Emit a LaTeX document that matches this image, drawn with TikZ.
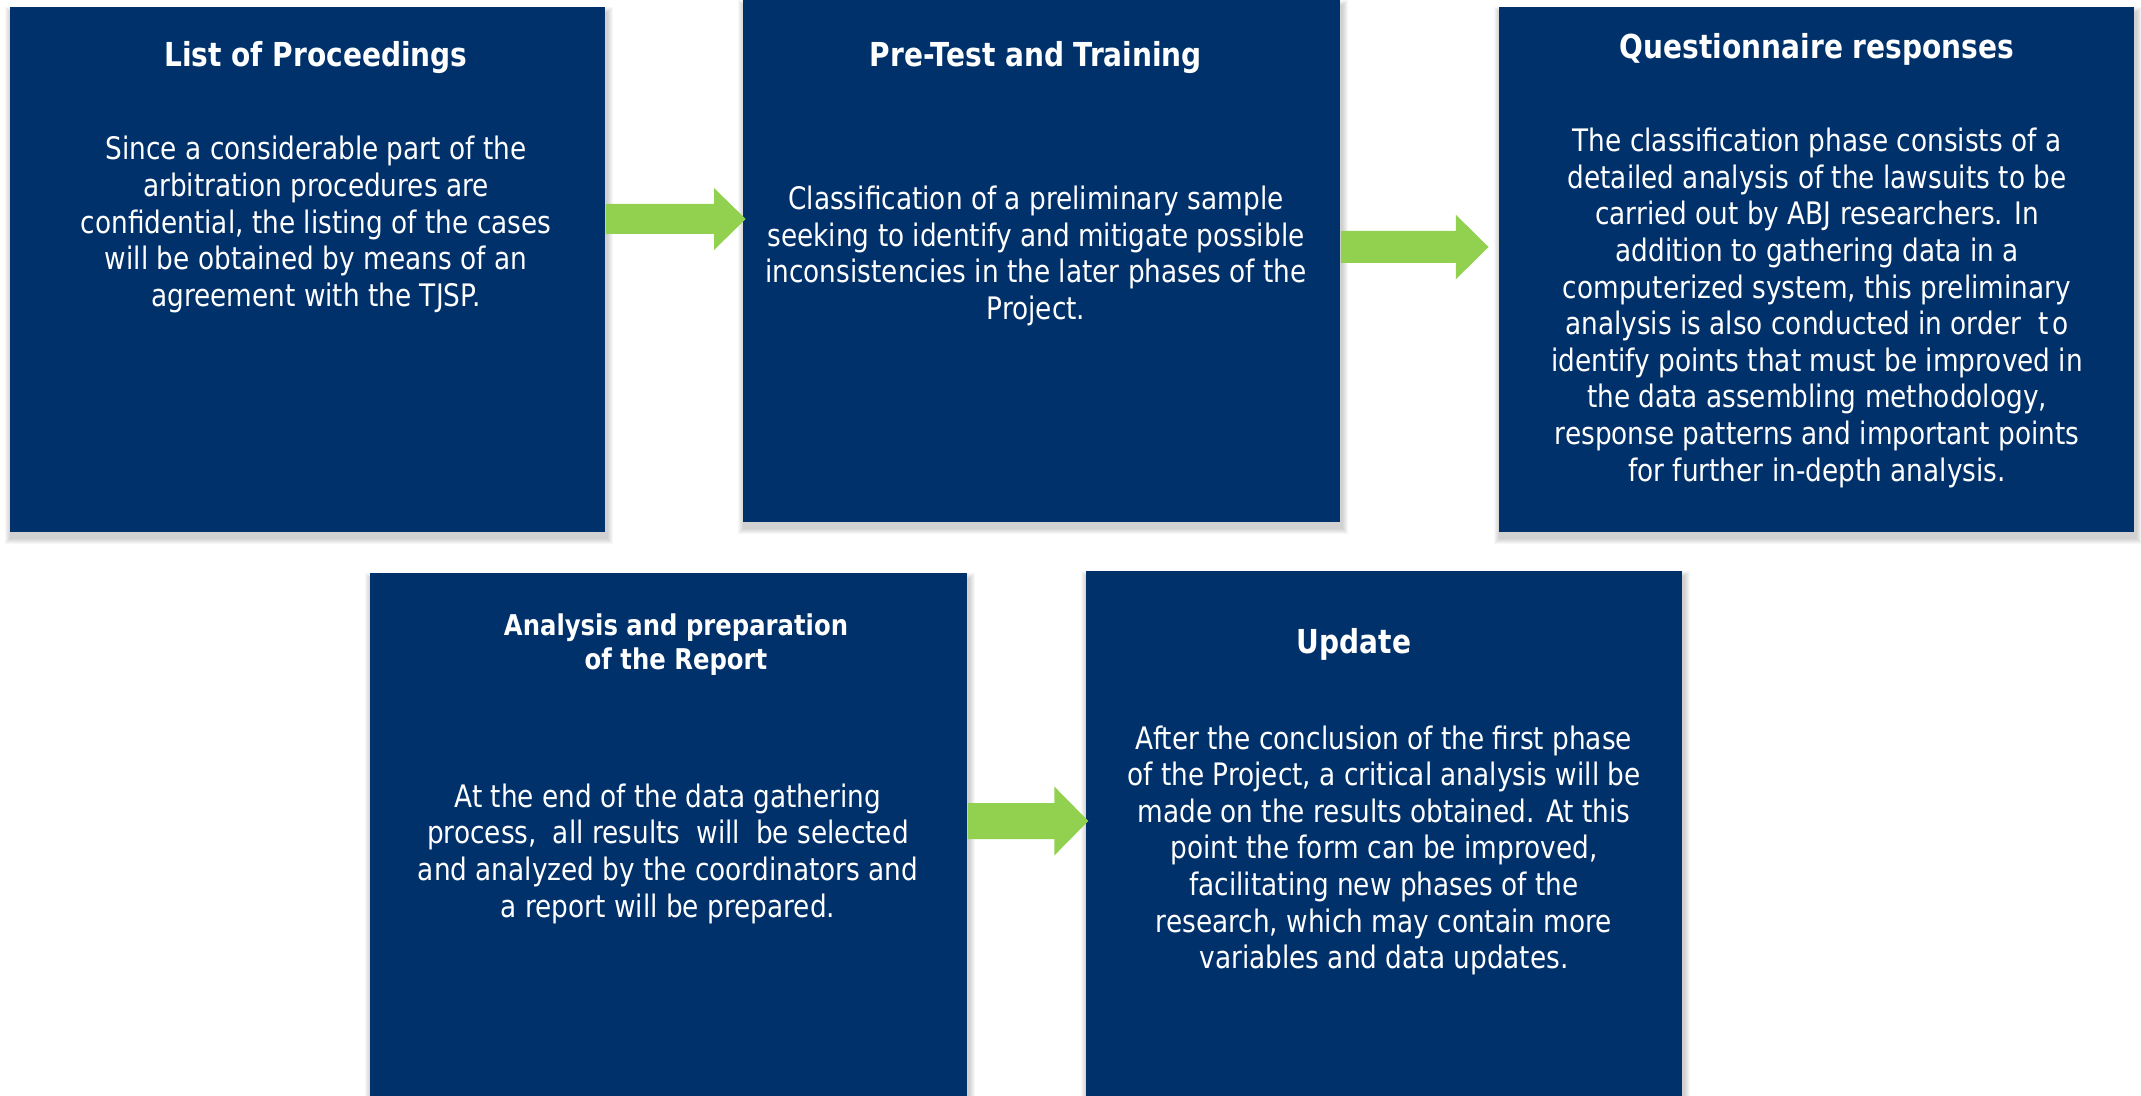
\documentclass[tikz,border=0pt]{standalone}
\usepackage{fontspec}
\setmainfont{DejaVu Sans}[FakeStretch=0.85]
\usetikzlibrary{calc,backgrounds}
\definecolor{navy}{RGB}{0,49,107}
\definecolor{arrowgreen}{RGB}{146,208,80}
\tikzset{
  panel/.style={fill=navy, draw=none, inner sep=0pt, anchor=north west},
  titletext/.style={text=white, font={\bfseries\fontsize{16.5}{19.8}\selectfont}, inner sep=0pt, anchor=base, align=center},
  smalltitle/.style={text=white, font={\bfseries\fontsize{14.3}{17.2}\selectfont}, inner sep=0pt, anchor=base, align=center},
  bodytext/.style={text=white, font={\fontsize{15.5}{18.3}\selectfont}, inner sep=0pt, anchor=base, align=center},
  greenarrow/.style={fill=arrowgreen, draw=none}
}
\newcommand\blockarrow[5]{%
  \fill[greenarrow] ($(#1)+(0,-#3)$) -- ($(#2)+(-#5,-#3)$) -- ($(#2)+(-#5,-#4)$) -- (#2)
    -- ($(#2)+(-#5,#4)$) -- ($(#2)+(-#5,#3)$) -- ($(#1)+(0,#3)$) -- cycle;}
\begin{document}
\begin{tikzpicture}[x=0.5pt,y=-0.5pt]
\useasboundingbox (0,0) rectangle (2141,1096);
% boxes
\node[panel, minimum width=297.5pt, minimum height=262.5pt] (b1) at (10,7) {};
\node[panel, minimum width=298.5pt, minimum height=261pt] (b2) at (743,0) {};
\node[panel, minimum width=317.75pt, minimum height=262.5pt] (b3) at (1498.5,7) {};
\node[panel, minimum width=298.5pt, minimum height=263.5pt] (b4) at (370,573) {};
\node[panel, minimum width=298pt, minimum height=264.5pt] (b5) at (1086,571) {};
% shadows and background
\begin{scope}[on background layer]
  \fill[white] (0,0) rectangle (2141,1096);
  \foreach \b in {b1,b2,b3,b4,b5}{
    \foreach \s in {1,...,6}{
      \fill[black,opacity=0.03] ($(\b.north west)+(-\s*1.0+1,-\s*1.0+6)$) rectangle ($(\b.south east)+(\s*1.0+1,\s*1.0+5)$);
    }}
\end{scope}
% arrows
\coordinate (a1s) at (b1.east |- 0,219);
\coordinate (a1t) at ($(b2.west |- a1s)+(2.7,0)$);
\blockarrow{a1s}{a1t}{15}{31}{31.7}
\coordinate (a2s) at (b2.east |- 0,247);
\coordinate (a2t) at ($(b3.west |- a2s)+(-10,0)$);
\blockarrow{a2s}{a2t}{16}{32.3}{32.7}
\coordinate (a3s) at (b4.east |- 0,821);
\coordinate (a3t) at ($(b5.west |- a3s)+(2.3,0)$);
\blockarrow{a3s}{a3t}{18}{34.5}{34}
% texts (base anchor = baseline of the last line)
\node[titletext] (t1) at (316,67) {List of Proceedings};
\node[bodytext] (d1) at (316,306.4) {Since a considerable part of the\\arbitration procedures are\\confidential, the listing of the cases\\will be obtained by means of an\\agreement with the TJSP.};
\node[titletext] (t2) at (1036,67) {Pre-Test and Training};
\node[bodytext] (d2) at (1036,319.5) {Classification of a preliminary sample\\seeking to identify and mitigate possible\\inconsistencies in the later phases of the\\Project.};
\node[titletext] (t3) at (1817,59) {Questionnaire responses};
\node[bodytext] (d3) at (1817,481) {The classification phase consists of a\\detailed analysis of the lawsuits to be\\carried out by ABJ researchers. In\\addition to gathering data in a\\computerized system, this preliminary\\analysis is also conducted in order\hspace{0.3em} t\hspace{0.12em}o\\identify points that must be improved in\\the data assembling methodology,\\response patterns and important points\\for further in-depth analysis.};
\node[smalltitle] (t4) at (676,669.4) {Analysis and preparation\\of the Report};
\node[bodytext] (d4) at (668,917) {At the end of the data gathering\\process,\hspace{0.25em} all results\hspace{0.25em} will\hspace{0.25em} be selected\\and analyzed by the coordinators and\\a report will be prepared.};
\node[titletext] (t5) at (1354,653) {Update};
\node[bodytext] (d5) at (1384,968.6) {After the conclusion of the first phase\\of the Project, a critical analysis will be\\made on the results obtained. At this\\point the form can be improved,\\facilitating new phases of the\\research, which may contain more\\variables and data updates.};
\end{tikzpicture}
\end{document}
